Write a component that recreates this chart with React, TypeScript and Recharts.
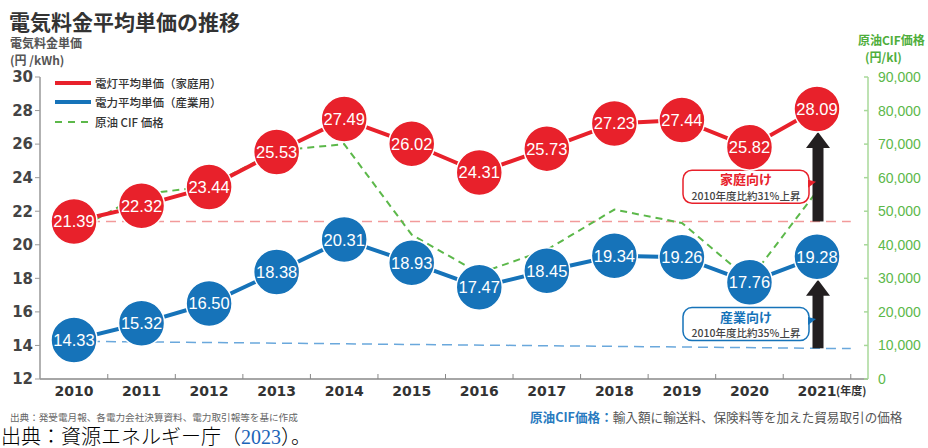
import React from 'react'
import { Legend, Line, LineChart, ReferenceLine, XAxis, YAxis } from 'recharts'

const YEARS = ['2010', '2011', '2012', '2013', '2014', '2015', '2016', '2017', '2018', '2019', '2020', '2021']
const HOUSEHOLD = [21.39, 22.32, 23.44, 25.53, 27.49, 26.02, 24.31, 25.73, 27.23, 27.44, 25.82, 28.09]
const INDUSTRY = [14.33, 15.32, 16.5, 18.38, 20.31, 18.93, 17.47, 18.45, 19.34, 19.26, 17.76, 19.28]
const CRUDE_CIF = [44000, 55000, 57500, 68000, 70000, 43000, 31500, 38500, 50500, 46500, 29500, 56000]
const PRICE_TICKS = [12, 14, 16, 18, 20, 22, 24, 26, 28, 30]
const CIF_TICKS = [0, 10000, 20000, 30000, 40000, 50000, 60000, 70000, 80000, 90000]
// dashed 2010 levels, value at 2010 and at 2021
const HOUSEHOLD_BASE = [21.39, 21.39]
const INDUSTRY_BASE = [14.25, 13.83]

const RED = '#e8212b'
const BLUE = '#1673b9'
const GREEN = '#5cb84a'
const INK = '#231f20'
const SANS = 'Arial, "Liberation Sans", "Noto Sans CJK JP", sans-serif'
const JP = '"Noto Sans CJK JP", sans-serif'
const BOLD_NUM = '"DejaVu Sans", sans-serif'
const R = 23

// plot runs 40..868, years sit on a point scale between PAD_L and PAD_R
const PAD_L = 34
const PAD_R = 51
const HALF_STEP = (868 - 40 - PAD_L - PAD_R) / (YEARS.length - 1) / 2

const data = YEARS.map((year, i) => ({
  year,
  household: HOUSEHOLD[i],
  industry: INDUSTRY[i],
  cif: CRUDE_CIF[i],
}))

const bubble = (color: string, key: 'household' | 'industry') => (props: any) => {
  const { cx, cy, payload, index } = props
  return (
    <g key={`${key}-${index}`}>
      <circle cx={cx} cy={cy} r={R} fill={color} stroke="#fff" strokeWidth={1.5} />
      <text x={cx} y={cy} dy="0.36em" textAnchor="middle" fill="#fff" fontSize={16.5} fontFamily={SANS}>
        {payload[key].toFixed(2)}
      </text>
    </g>
  )
}

const baseline = (color: string) => (props: any) => {
  const { x1, y1, x2, y2 } = props
  const ext = HALF_STEP
  const slope = x2 === x1 ? 0 : (y2 - y1) / (x2 - x1)
  return (
    <line x1={x1} y1={y1} x2={x2 + ext} y2={y2 + slope * ext} stroke={color} strokeWidth={1.5} strokeDasharray="10 6" />
  )
}

const arrow = (color: string, title: string, note: string) => (props: any) => {
  const { x1, y1, y2 } = props
  const x = x1 + 1
  const tip = y2 + R
  const cy = (tip + y1) / 2 + 10
  const bx = x - 9
  return (
    <g>
      <rect x={x - 5.5} y={tip + 14} width={11} height={y1 - tip - 14} fill={INK} />
      <polygon points={`${x},${tip} ${x - 12},${tip + 16} ${x + 12},${tip + 16}`} fill={INK} />
      <rect x={bx - 126} y={cy - 16.5} width={126} height={33} rx={9} fill="#fff" stroke={color} strokeWidth={1.5} />
      <polygon points={`${bx - 1},${cy - 7} ${bx + 7},${cy - 5} ${bx - 1},${cy + 1}`} fill={color} />
      <text x={bx - 63} y={cy - 7} dy="0.36em" textAnchor="middle" fill={color} fontSize={13} fontWeight={700} fontFamily={JP}>
        {title}
      </text>
      <text x={bx - 63} y={cy + 9} dy="0.36em" textAnchor="middle" fill="#444" fontSize={10.5} fontWeight={500} fontFamily={JP}>
        {note}
      </text>
    </g>
  )
}

function YearTick(props: any) {
  const { x, y, payload, index } = props
  const axisY = y - 8
  return (
    <g>
      <line x1={x + HALF_STEP} x2={x + HALF_STEP} y1={axisY} y2={axisY - 5} stroke="#888" />
      <text x={x} y={axisY + 12} dy="0.36em" textAnchor="middle" fill="#333" fontSize={14} fontWeight={700} fontFamily={BOLD_NUM}>
        {payload.value}
      </text>
      {index === YEARS.length - 1 && (
        <text x={x + 19} y={axisY + 12} dy="0.36em" fill="#333" fontSize={11} fontWeight={700} fontFamily={JP}>
          (年度)
        </text>
      )}
    </g>
  )
}

function CifTick(props: any) {
  const { x, y, payload } = props
  return (
    <g>
      <line x1={x - 14} x2={x - 10} y1={y} y2={y} stroke="#a8d89a" strokeWidth={1.5} />
      <text x={x} y={y} dy="0.36em" fill={GREEN} fontSize={14} fontFamily={SANS}>
        {payload.value.toLocaleString('en-US')}
      </text>
    </g>
  )
}

function LegendBox() {
  const rows = [
    { label: '電灯平均単価（家庭用）', color: RED, width: 4, dash: undefined },
    { label: '電力平均単価（産業用）', color: BLUE, width: 4, dash: undefined },
    { label: '原油 CIF 価格', color: GREEN, width: 2, dash: '7 6' },
  ]
  return (
    <div style={{ fontFamily: JP, fontSize: 11.5, fontWeight: 500, color: '#333' }}>
      {rows.map((r) => (
        <div key={r.label} style={{ display: 'flex', alignItems: 'center', height: 19.5 }}>
          <svg width={40} height={8}>
            <line x1={0} x2={36} y1={4} y2={4} stroke={r.color} strokeWidth={r.width} strokeDasharray={r.dash} />
          </svg>
          <span>{r.label}</span>
        </div>
      ))}
    </div>
  )
}

const abs = (left: number, top: number, extra: React.CSSProperties = {}): React.CSSProperties => ({
  position: 'absolute',
  left,
  top,
  whiteSpace: 'nowrap',
  ...extra,
})

const small = { fontFamily: JP, fontSize: 12, lineHeight: '13px', fontWeight: 700 }

export default function App() {
  const last = YEARS[YEARS.length - 1]
  return (
    <div style={{ position: 'absolute', left: 0, top: 0, width: 928, height: 448, background: '#fff', overflow: 'hidden' }}>
      <div style={abs(9, 11, { fontFamily: JP, fontSize: 21, lineHeight: '21px', fontWeight: 700, color: '#333' })}>
        電気料金平均単価の推移
      </div>
      <div style={abs(10, 36, { ...small, color: '#555' })}>電気料金単価</div>
      <div style={abs(10, 53, { ...small, color: '#555' })}>(円 /kWh)</div>
      <div style={abs(858, 33, { ...small, color: '#4fae3c' })}>原油CIF価格</div>
      <div style={abs(865, 50, { ...small, color: '#4fae3c' })}>(円/kl)</div>

      <div style={abs(0, 0)}>
        <LineChart width={928} height={413} data={data} margin={{ top: 77, right: 0, left: 0, bottom: 0 }}>
          <XAxis
            dataKey="year"
            height={34}
            padding={{ left: PAD_L, right: PAD_R }}
            axisLine={{ stroke: '#888', strokeWidth: 1.5 }}
            tickLine={false}
            tickSize={0}
            tickMargin={8}
            tick={<YearTick />}
            interval={0}
          />
          <YAxis
            yAxisId="left"
            width={40}
            domain={[12, 30]}
            ticks={PRICE_TICKS}
            axisLine={{ stroke: '#999', strokeWidth: 1.5 }}
            tickLine={{ stroke: '#999' }}
            tickSize={5}
            tickMargin={2}
            tick={{ fill: '#444', fontSize: 15, fontWeight: 700, fontFamily: BOLD_NUM }}
          />
          <YAxis
            yAxisId="right"
            orientation="right"
            width={60}
            domain={[0, 90000]}
            ticks={CIF_TICKS}
            axisLine={{ stroke: '#a8d89a', strokeWidth: 1.5 }}
            tickLine={false}
            tickSize={0}
            tickMargin={10}
            tick={<CifTick />}
          />
          <Legend
            layout="vertical"
            align="center"
            verticalAlign="middle"
            wrapperStyle={{ left: 55, top: 73, width: 'auto' }}
            content={() => <LegendBox />}
          />
          <ReferenceLine
            yAxisId="left"
            segment={[
              { x: YEARS[0], y: HOUSEHOLD_BASE[0] },
              { x: last, y: HOUSEHOLD_BASE[1] },
            ]}
            shape={baseline('#f29a9a')}
          />
          <ReferenceLine
            yAxisId="left"
            segment={[
              { x: YEARS[0], y: INDUSTRY_BASE[0] },
              { x: last, y: INDUSTRY_BASE[1] },
            ]}
            shape={baseline('#6aa8dc')}
          />
          <Line
            yAxisId="right"
            dataKey="cif"
            stroke={GREEN}
            strokeWidth={2}
            strokeDasharray="7 5"
            dot={false}
            isAnimationActive={false}
          />
          <ReferenceLine
            yAxisId="left"
            segment={[
              { x: last, y: HOUSEHOLD_BASE[1] },
              { x: last, y: HOUSEHOLD[HOUSEHOLD.length - 1] },
            ]}
            shape={arrow(RED, '家庭向け', '2010年度比約31%上昇')}
          />
          <ReferenceLine
            yAxisId="left"
            segment={[
              { x: last, y: INDUSTRY_BASE[1] },
              { x: last, y: INDUSTRY[INDUSTRY.length - 1] },
            ]}
            shape={arrow(BLUE, '産業向け', '2010年度比約35%上昇')}
          />
          <Line
            yAxisId="left"
            dataKey="household"
            stroke={RED}
            strokeWidth={4}
            dot={bubble(RED, 'household')}
            isAnimationActive={false}
          />
          <Line
            yAxisId="left"
            dataKey="industry"
            stroke={BLUE}
            strokeWidth={4}
            dot={bubble(BLUE, 'industry')}
            isAnimationActive={false}
          />
        </LineChart>
      </div>

      <div style={abs(10, 411, { fontFamily: JP, fontSize: 9.6, lineHeight: '12px', color: '#666' })}>
        出典：発受電月報、各電力会社決算資料、電力取引報等を基に作成
      </div>
      <div style={abs(530, 409, { fontFamily: JP, fontSize: 12.6, lineHeight: '16px', color: '#555' })}>
        <span style={{ color: '#2a7bbf', fontWeight: 700 }}>原油CIF価格：</span>
        輸入額に輸送料、保険料等を加えた貿易取引の価格
      </div>
      <div style={abs(1, 425, { fontFamily: '"Liberation Serif", "Noto Sans CJK JP", serif', fontSize: 20, lineHeight: '24px', fontWeight: 300, color: '#000' })}>
        出典：資源エネルギー庁（<span style={{ color: '#1a63b8', fontWeight: 400 }}>2023</span>）。
      </div>
    </div>
  )
}
